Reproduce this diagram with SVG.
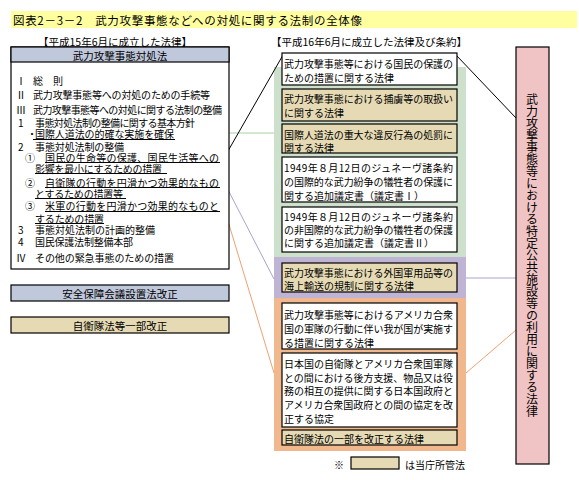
<svg xmlns="http://www.w3.org/2000/svg" width="579" height="480" viewBox="0 0 579 480">
<style>
text{font-family:"Noto Sans CJK JP","Noto Sans CJK SC",sans-serif;fill:#000;dominant-baseline:central}
.t{font-size:10px}
.h{font-size:10.5px}
.bx{stroke:#000;stroke-width:1.2}
.w{fill:#fff}
.tan{fill:#E6DAB4}
.blu{fill:#C0C8DC}
.ul{stroke:#000;stroke-width:1}
</style>
<rect width="579" height="480" fill="#fff"/>
<g id="title">
<rect x="11" y="11" width="566" height="17" fill="#FFFFA0"/>
<text x="13" y="20" font-size="11.5" textLength="349">図表2－3－2　武力攻撃事態などへの対処に関する法制の全体像</text>
</g>
<text class="h" x="115" y="41" text-anchor="middle">【平成15年6月に成立した法律】</text>
<text class="h" x="369" y="41" text-anchor="middle">【平成16年6月に成立した法律及び条約】</text>

<g id="panels">
<rect x="274" y="67" width="192" height="190" fill="#CCE0CC"/>
<rect x="274" y="257" width="192" height="41" fill="#C0B4D4"/>
<rect x="274" y="298" width="192" height="153" fill="#F0B88C"/>
</g>

<g id="connectors" fill="none">
<line x1="178" y1="133" x2="274" y2="133" stroke="#A8D0A8" stroke-width="1"/>
<line x1="224" y1="158" x2="283" y2="55" stroke="#000" stroke-width="1"/>
<line x1="224" y1="182" x2="274" y2="279" stroke="#B0A0CC" stroke-width="1"/>
<line x1="224" y1="208" x2="274" y2="373" stroke="#F0A070" stroke-width="1"/>
<line x1="516" y1="118" x2="457" y2="56" stroke="#000" stroke-width="1"/>
<line x1="466" y1="278" x2="516" y2="278" stroke="#B0A0CC" stroke-width="1"/>
<line x1="466" y1="373" x2="516" y2="330" stroke="#F0A070" stroke-width="1"/>
</g>

<g id="taisho-ho">
<rect class="bx w" x="11" y="47" width="218" height="222"/>
<rect class="bx blu" x="11" y="47" width="218" height="15"/>
<text class="h" x="120" y="55" text-anchor="middle">武力攻撃事態対処法</text>
<text class="t" x="16" y="80">Ⅰ</text><text class="t" x="33" y="80">総　則</text>
<text class="t" x="16" y="94">Ⅱ</text><text class="t" x="33" y="94" textLength="177">武力攻撃事態等への対処のための手続等</text>
<text class="t" x="16" y="109">Ⅲ</text><text class="t" x="33" y="109" textLength="189">武力攻撃事態等への対処に関する法制の整備</text>
<text class="t" x="18" y="122">1</text><text class="t" x="35" y="122" textLength="160">事態対処法制の整備に関する基本方針</text>
<text class="t" x="27" y="133">・</text><text class="t" x="35" y="133" textLength="139">国際人道法の的確な実施を確保</text>
<text class="t" x="18" y="146">2</text><text class="t" x="35" y="146" textLength="89">事態対処法制の整備</text>
<text class="t" x="25" y="157">①</text><text class="t" x="45" y="157" textLength="174">国民の生命等の保護、国民生活等への</text>
<text class="t" x="35" y="168" textLength="127">影響を最小にするための措置</text>
<text class="t" x="25" y="182">②</text><text class="t" x="45" y="182" textLength="174">自衛隊の行動を円滑かつ効果的なもの</text>
<text class="t" x="35" y="193" textLength="88">とするための措置等</text>
<text class="t" x="25" y="205">③</text><text class="t" x="45" y="205" textLength="174">米軍の行動を円滑かつ効果的なものと</text>
<text class="t" x="35" y="218" textLength="69">するための措置</text>
<text class="t" x="18" y="229">3</text><text class="t" x="35" y="229" textLength="120">事態対処法制の計画的整備</text>
<text class="t" x="18" y="241">4</text><text class="t" x="35" y="241" textLength="98">国民保護法制整備本部</text>
<text class="t" x="16" y="257">Ⅳ</text><text class="t" x="35" y="257" textLength="139">その他の緊急事態のための措置</text>
<g class="ul">
<line x1="33" y1="139.5" x2="175" y2="139.5"/>
<line x1="45" y1="162.5" x2="220" y2="162.5"/>
<line x1="35" y1="173.5" x2="167" y2="173.5"/>
<line x1="45" y1="187.5" x2="220" y2="187.5"/>
<line x1="35" y1="198.5" x2="126" y2="198.5"/>
<line x1="45" y1="211.5" x2="220" y2="211.5"/>
<line x1="35" y1="223.5" x2="104" y2="223.5"/>
</g>
</g>

<g id="anpo">
<rect class="bx blu" x="11" y="285" width="218" height="16"/>
<text class="h" x="120" y="293" text-anchor="middle">安全保障会議設置法改正</text>
</g>
<g id="jieitai-kaisei">
<rect class="bx tan" x="11" y="317" width="218" height="16"/>
<text class="h" x="120" y="325" text-anchor="middle">自衛隊法等一部改正</text>
</g>

<g id="kokumin-hogo">
<rect class="bx w" x="282" y="53" width="175" height="32"/>
<text class="t" x="284" y="63" textLength="169">武力攻撃事態等における国民の保護の</text>
<text class="t" x="284" y="77">ための措置に関する法律</text>
</g>
<g id="horyo">
<rect class="bx tan" x="282" y="89" width="175" height="32"/>
<text class="t" x="284" y="98" textLength="169">武力攻撃事態における捕虜等の取扱い</text>
<text class="t" x="284" y="112">に関する法律</text>
</g>
<g id="jindo">
<rect class="bx tan" x="282" y="124" width="175" height="29"/>
<text class="t" x="284" y="134" textLength="169">国際人道法の重大な違反行為の処罰に</text>
<text class="t" x="284" y="147">関する法律</text>
</g>
<g id="giteisho1">
<rect class="bx w" x="282" y="157" width="175" height="45"/>
<text class="t" x="284" y="167" textLength="169">1949年８月12日のジュネーヴ諸条約</text>
<text class="t" x="284" y="181" textLength="169">の国際的な武力紛争の犠牲者の保護に</text>
<text class="t" x="284" y="195">関する追加議定書（議定書Ⅰ）</text>
</g>
<g id="giteisho2">
<rect class="bx w" x="282" y="207" width="175" height="45"/>
<text class="t" x="284" y="216" textLength="169">1949年８月12日のジュネーヴ諸条約</text>
<text class="t" x="284" y="229" textLength="169">の非国際的な武力紛争の犠牲者の保護</text>
<text class="t" x="284" y="242">に関する追加議定書（議定書Ⅱ）</text>
</g>
<g id="kaijo-yuso">
<rect class="bx tan" x="282" y="263" width="175" height="29"/>
<text class="t" x="284" y="272" textLength="169">武力攻撃事態における外国軍用品等の</text>
<text class="t" x="284" y="285">海上輸送の規制に関する法律</text>
</g>
<g id="beigun">
<rect class="bx w" x="282" y="303" width="175" height="46"/>
<text class="t" x="284" y="314" textLength="169">武力攻撃事態等におけるアメリカ合衆</text>
<text class="t" x="284" y="328" textLength="169">国の軍隊の行動に伴い我が国が実施す</text>
<text class="t" x="284" y="342">る措置に関する法律</text>
</g>
<g id="acsa">
<rect class="bx w" x="282" y="353" width="175" height="74"/>
<text class="t" x="284" y="363" textLength="169">日本国の自衛隊とアメリカ合衆国軍隊</text>
<text class="t" x="284" y="377" textLength="169">との間における後方支援、物品又は役</text>
<text class="t" x="284" y="390" textLength="169">務の相互の提供に関する日本国政府と</text>
<text class="t" x="284" y="404" textLength="169">アメリカ合衆国政府との間の協定を改</text>
<text class="t" x="284" y="418">正する協定</text>
</g>
<g id="jieitai-ho">
<rect class="bx tan" x="282" y="430" width="175" height="15"/>
<text class="t" x="284" y="438">自衛隊法の一部を改正する法律</text>
</g>

<g id="tokutei-kokyo">
<rect class="bx" x="516" y="47" width="33" height="417" fill="#F0C4C4"/>
<text x="532" y="93" font-size="12" style="writing-mode:vertical-rl;dominant-baseline:auto" textLength="324">武力攻撃事態等における特定公共施設等の利用に関する法律</text>
</g>

<g id="legend">
<text class="t" x="334" y="464">※</text>
<rect class="bx tan" x="351" y="457" width="48" height="12"/>
<text class="t" x="405" y="464">は当庁所管法</text>
</g>
</svg>
